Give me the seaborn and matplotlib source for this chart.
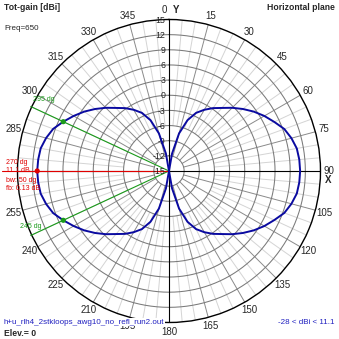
import numpy as np
import pandas as pd
import matplotlib
matplotlib.use("Agg")
import matplotlib.pyplot as plt
import seaborn as sns

# ---------------- data ----------------
angles_deg = list(range(0, 360, 5))
gain_dbi = [
    -28.0, -18.0, -11.5, -7.3, -4.3, -2.3, -1.0, 0.2, 1.3, 2.7, 4.1, 5.5,   # 0..55
    6.8, 8.0, 9.3, 10.1, 10.7, 10.9, 10.97, 10.9, 10.7, 10.1, 9.3, 8.0,      # 60..115
    6.8, 5.5, 4.1, 2.7, 1.3, 0.2, -1.0, -2.3, -4.3, -7.3, -11.5, -18.0,      # 120..175
    -27.0, -18.0, -11.5, -7.3, -4.3, -2.3, -1.0, 0.2, 1.3, 2.7, 4.1, 5.5,    # 180..235
    6.8, 8.1, 9.4, 10.2, 10.8, 11.0, 11.1, 11.0, 10.8, 10.2, 9.4, 8.1,       # 240..295
    6.8, 5.5, 4.1, 2.7, 1.3, 0.2, -1.0, -2.3, -4.3, -7.3, -11.5, -18.0,      # 300..355
]
marker_angles = [245, 270, 295]
marker_gains = [8.1, 11.1, 8.1]
marker_kind = ["half", "max", "half"]

ring_values = [15, 12, 9, 6, 3, 0, -3, -6, -9, -12, -15]
ring_labels = ["15", "12", "9", "6", "3", "0", "-3", "-6", "-9", "-12", "-15"]
angle_ticks = list(range(0, 360, 15))

R_MIN, R_MAX = -15, 15

# ---------------- style ----------------
sns.set_theme(style="white")
plt.rcParams["font.family"] = ["Liberation Sans", "DejaVu Sans"]

fig = plt.figure(figsize=(3.39, 3.39), dpi=100)
fig.patch.set_facecolor("white")
ax = fig.add_axes([0.0516, 0.0487, 0.8938, 0.8938], projection="polar")
ax.set_theta_zero_location("N")
ax.set_theta_direction(-1)
ax.set_ylim(R_MIN, R_MAX)
ax.set_xticks([])
ax.set_yticks([])
ax.grid(False)
ax.set_facecolor("white")
ax.spines["polar"].set_color("black")
ax.spines["polar"].set_linewidth(1.0)

# grid: spokes
for a in range(0, 360, 5):
    t = np.deg2rad(a)
    if a % 90 == 0:
        continue
    if a % 15 == 0:
        ax.plot([t, t], [-12, 15], color="#8a8a8a", lw=0.7, zorder=1)
    else:
        ax.plot([t, t], [-6, 15], color="#d4d4d4", lw=0.7, zorder=1)
# grid: rings
tt = np.linspace(0, 2 * np.pi, 721)
for v in ring_values[1:-1]:
    ax.plot(tt, np.full_like(tt, v), color="#7a7a7a", lw=0.75, zorder=1.5)
# main axes
for a in (0, 90):
    t = np.deg2rad(a)
    ax.plot([t, t], [R_MIN, R_MAX], color="black", lw=0.8, zorder=2)
    ax.plot([t + np.pi, t + np.pi], [R_MIN, R_MAX], color="black", lw=0.8, zorder=2)

# green half-power lines and red max line
for a in (245, 295):
    t = np.deg2rad(a)
    ax.plot([t, t], [R_MIN, 15.2], color="#1a9a1a", lw=0.8, zorder=3, clip_on=False)
t270 = np.deg2rad(270)
ax.plot([t270, t270], [R_MIN, 18.1], color="#e00000", lw=0.8, zorder=3, clip_on=False)

# pattern
theta = np.deg2rad(angles_deg + [360])
gain = np.clip(np.array(gain_dbi + [gain_dbi[0]]), R_MIN, R_MAX)
df = pd.DataFrame({"theta": theta, "gain": gain})
sns.lineplot(data=df, x="theta", y="gain", sort=False, estimator=None,
             color="#0a0aa0", lw=1.4, ax=ax, zorder=4)

mk = pd.DataFrame({"theta": np.deg2rad(marker_angles), "gain": marker_gains, "kind": marker_kind})
sns.scatterplot(data=mk, x="theta", y="gain", hue="kind",
                palette={"half": "#1a9a1a", "max": "#e00000"},
                s=14, linewidth=0, ax=ax, zorder=5, legend=False)
ax.set_xlabel("")
ax.set_ylabel("")
ax.set_ylim(R_MIN, R_MAX)

fs = 5.8
afs = 7.0
# angle labels
for a in angle_ticks:
    t = np.deg2rad(a)
    if a == 0:
        ax.annotate("0", xy=(t, 16.9), xytext=(-1.5, 0), textcoords="offset points",
                    ha="right", va="center", fontsize=afs, annotation_clip=False)
        ax.annotate("Y", xy=(t, 16.9), xytext=(2.5, 0), textcoords="offset points",
                    ha="left", va="center", fontsize=afs, fontweight="bold", annotation_clip=False)
    elif a == 90:
        ax.annotate("90", xy=(t, 16.6), ha="center", va="center", fontsize=afs, annotation_clip=False)
        ax.annotate("X", xy=(t, 16.6), xytext=(0, -6.5), textcoords="offset points",
                    ha="center", va="center", fontsize=afs, fontweight="bold", annotation_clip=False)
    elif a == 270:
        continue
    else:
        ax.text(t, 16.8, str(a), ha="center", va="center", fontsize=afs, clip_on=False)

# radial labels
for v, lab in zip(ring_values, ring_labels):
    ax.annotate(lab, xy=(0, v), xytext=(-2.5, -0.5), textcoords="offset points",
                ha="right", va="center", fontsize=6.3, color="#222222", annotation_clip=False)

# text annotations
def ftxt(x, y, s, **kw):
    fig.text(x / 339, 1 - y / 339, s, va="center", **kw)

ftxt(4, 8, "Tot-gain [dBi]", fontsize=6.2, fontweight="bold", ha="left")
ftxt(4, 28, "Freq=650", fontsize=fs, ha="left")
ftxt(335, 8, "Horizontal plane", fontsize=6.2, fontweight="bold", ha="right")
ftxt(4, 322, "h+u_rlh4_2stkloops_awg10_no_refl_run2.out", fontsize=fs, ha="left", color="#2020c0",
     bbox=dict(boxstyle="square,pad=0.05", fc="white", ec="none"))
ftxt(4, 333, "Elev.= 0", fontsize=6.2, fontweight="bold", ha="left")
ftxt(335, 322, "-28 < dBi < 11.1", fontsize=fs, ha="right", color="#2020c0")

red = "#e00000"
rfs = 5.0
ftxt(6, 162, "270 dg", fontsize=rfs, ha="left", color=red)
ftxt(6, 171, "11.1 dB", fontsize=rfs, ha="left", color=red)
ftxt(6, 180, "bw: 50 dg", fontsize=rfs, ha="left", color=red)
ftxt(6, 189, "fb: 0.13 dB", fontsize=rfs, ha="left", color=red)
green = "#1a9a1a"
ftxt(33, 100, "295 dg", fontsize=rfs, ha="left", color=green)
ftxt(20, 227, "245 dg", fontsize=rfs, ha="left", color=green)

fig.savefig("out.png", dpi=100, facecolor="white")
